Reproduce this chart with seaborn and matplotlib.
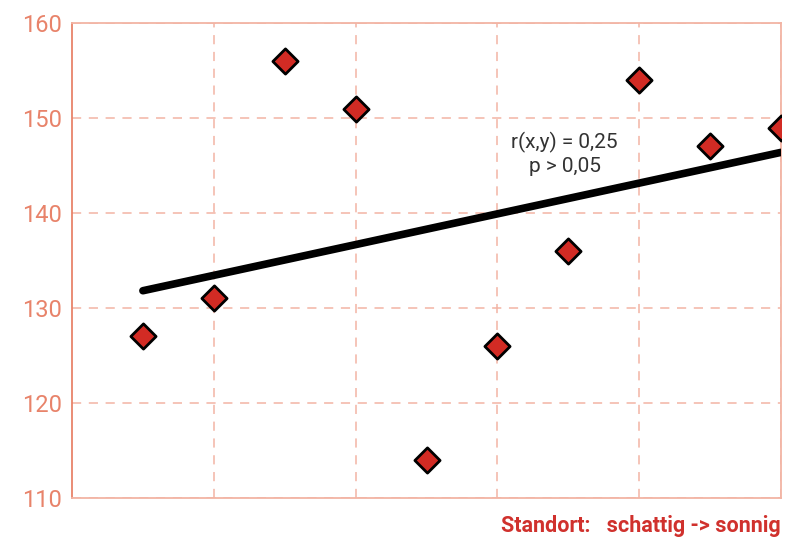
import matplotlib
matplotlib.use("Agg")
import matplotlib.pyplot as plt
import pandas as pd
import seaborn as sns

# Standort rank (schattig -> sonnig) and measured value
standort = [1, 2, 3, 4, 5, 6, 7, 8, 9, 10]
werte = [127, 131, 156, 151, 114, 126, 136, 154, 147, 149]
y_ticks = [110, 120, 130, 140, 150, 160]
x_grid = [2, 4, 6, 8, 10]
stat_text = "r(x,y) = 0,25\np > 0,05"
x_label = "Standort:   schattig -> sonnig"

df = pd.DataFrame({"standort": standort, "wert": werte})

sns.set_style("white")
plt.rcParams["font.family"] = ["Roboto", "DejaVu Sans"]

salmon = "#E8836A"
grid_col = "#F2B4A4"

fig = plt.figure(figsize=(8.11, 5.40), dpi=100)
ax = fig.add_axes([0.0888, 0.0778, 0.8742, 0.8796])

sns.regplot(data=df, x="standort", y="wert", ci=None, ax=ax,
            scatter=False, line_kws={"color": "black", "lw": 5.5, "zorder": 3})
sns.scatterplot(data=df, x="standort", y="wert", ax=ax, marker="D", s=165,
                color="#D22B24", edgecolor="black", linewidth=2, zorder=4)

ax.set_xlim(0, 10)
ax.set_ylim(110, 160)
ax.set_xticks(x_grid)
ax.set_xticklabels([])
ax.set_yticks(y_ticks)
ax.tick_params(axis="x", length=0)
ax.tick_params(axis="y", length=5, width=1.2, color=salmon, labelcolor=salmon,
               labelsize=17, pad=2)
ax.grid(True, color=grid_col, linestyle=(0, (6, 5)), linewidth=1.1)

for side, sp in ax.spines.items():
    sp.set_visible(True)
    sp.set_color(salmon if side == "left" else grid_col)
    sp.set_linewidth(1.3)

ax.set_ylabel("")
ax.set_xlabel(x_label, color="#D0312D", fontsize=15.5, fontweight="bold",
              loc="right", labelpad=9)

ax.text(6.95, 146.2, stat_text, ha="center", va="center", fontsize=15,
        color="#333333", linespacing=1.25)

fig.savefig("out.png", dpi=100)
